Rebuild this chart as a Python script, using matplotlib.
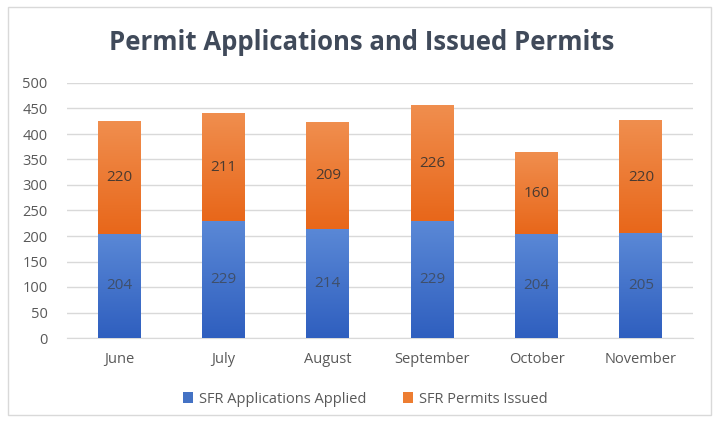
import numpy as np
import matplotlib.pyplot as plt
from matplotlib.patches import Rectangle
from matplotlib.colors import LinearSegmentedColormap

months = ['June', 'July', 'August', 'September', 'October', 'November']
applied = [204, 229, 214, 229, 204, 205]
issued = [220, 211, 209, 226, 160, 220]

plt.rcParams['font.family'] = ['Open Sans', 'DejaVu Sans']

fig = plt.figure(figsize=(7.15, 4.23), dpi=100)
# light chart border
fig.patches.append(Rectangle((8 / 715, 8 / 423), 703 / 715, 408 / 423, transform=fig.transFigure,
                             fill=False, edgecolor='#d9d9d9', linewidth=1))

ax = fig.add_axes([67 / 715, (423 - 338) / 423, 626 / 715, 255 / 423])

x = np.arange(len(months))
width = 0.41
blue_cmap = LinearSegmentedColormap.from_list('b', ['#2f5fbf', '#5a88d6'])
orange_cmap = LinearSegmentedColormap.from_list('o', ['#e8671a', '#f08e4e'])
grad = np.linspace(0, 1, 100).reshape(-1, 1)

b1 = ax.bar(x, applied, width, color='#4472c4', label='SFR Applications Applied', zorder=2)
b2 = ax.bar(x, issued, width, bottom=applied, color='#ed7d31', label='SFR Permits Issued', zorder=2)

# vertical gradient fill, like Excel
for bars, cmap in [(b1, blue_cmap), (b2, orange_cmap)]:
    for p in bars:
        x0, y0 = p.get_x(), p.get_y()
        ax.imshow(grad, cmap=cmap, origin='lower', aspect='auto', zorder=3,
                  extent=[x0, x0 + p.get_width(), y0, y0 + p.get_height()])

for i in range(len(months)):
    ax.text(x[i], applied[i] / 2, str(applied[i]), ha='center', va='center',
            fontsize=11, color='#3f4f6a', zorder=4)
    ax.text(x[i], applied[i] + issued[i] / 2, str(issued[i]), ha='center', va='center',
            fontsize=11, color='#4a3a30', zorder=4)

ax.set_xlim(-0.5, len(months) - 0.5)
ax.set_ylim(0, 500)
ax.set_yticks(range(0, 501, 50))
ax.set_xticks(x)
ax.set_xticklabels(months)
ax.grid(axis='y', color='#d9d9d9', linewidth=1, zorder=0)
ax.set_axisbelow(True)
for s in ['top', 'right', 'left']:
    ax.spines[s].set_visible(False)
ax.spines['bottom'].set_color('#d9d9d9')
ax.tick_params(axis='both', length=0, labelsize=10.5, colors='#595959')
ax.tick_params(axis='x', pad=10)
ax.tick_params(axis='y', pad=14)

fig.text(362 / 715, 1 - 43 / 423, 'Permit Applications and Issued Permits', ha='center', va='center',
         fontsize=18.5, fontweight='bold', color='#404a5a')

fig.legend(handles=[b1, b2], loc='center', bbox_to_anchor=(365 / 715, 1 - 399 / 423), ncol=2,
           frameon=False, fontsize=10.5, labelcolor='#595959', handlelength=0.7, handleheight=0.7,
           columnspacing=2.5, handletextpad=0.4)

fig.savefig('out.png', dpi=100)
